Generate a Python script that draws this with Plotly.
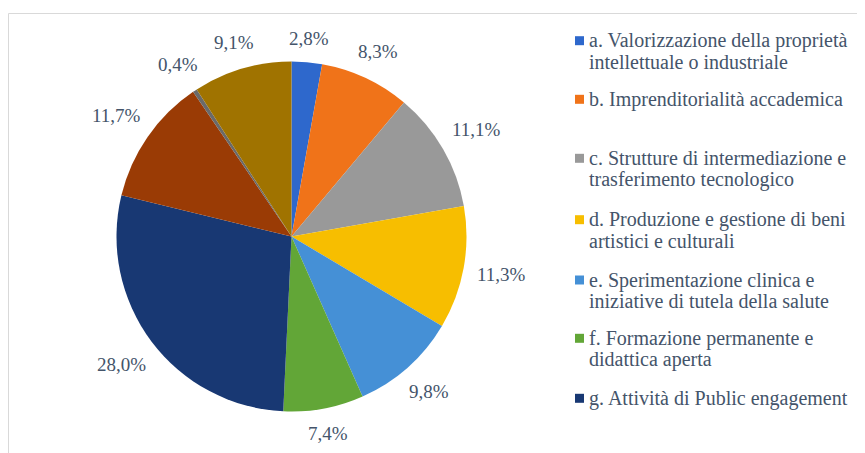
import math
import plotly.graph_objects as go

labels = [
    "a. Valorizzazione della proprietà intellettuale o industriale",
    "b. Imprenditorialità accademica",
    "c. Strutture di intermediazione e trasferimento tecnologico",
    "d. Produzione e gestione di beni artistici e culturali",
    "e. Sperimentazione clinica e iniziative di tutela della salute",
    "f. Formazione permanente e didattica aperta",
    "g. Attività di Public engagement",
    "h. Produzione di beni pubblici di natura sociale, educativa e politiche per l'inclusione",
    "i. Strumenti innovativi a sostegno dell'Open Science",
    "j. Attività collegate all'Agenda ONU 2030 e agli Obiettivi di Sviluppo Sostenibile",
]
values = [2.8, 8.3, 11.1, 11.3, 9.8, 7.4, 28.0, 11.7, 0.4, 9.1]
colors = ["#2E68CC", "#F07319", "#999999", "#F7BE00", "#4590D6",
          "#62A637", "#183873", "#9A3B05", "#6A6A6A", "#A07300"]

# legend entries shown in the reference (a-g), split in lines as displayed
legend_lines = [
    ["a. Valorizzazione della proprietà", "intellettuale o industriale"],
    ["b. Imprenditorialità accademica"],
    ["c. Strutture di intermediazione e", "trasferimento tecnologico"],
    ["d. Produzione e gestione di beni", "artistici e culturali"],
    ["e. Sperimentazione clinica e", "iniziative di tutela della salute"],
    ["f. Formazione permanente e", "didattica aperta"],
    ["g. Attività di Public engagement"],
]
legend_line1_y = [40.7, 99.3, 158.3, 219.7, 280.0, 338.3, 398.3]  # px from top (screen)

OFF = 8                      # page body margin of the browser
W, H = 865 - OFF, 453 - OFF  # figure size
FONT = "Liberation Serif, Times New Roman, serif"
TXT = "#44546A"
FS_LABEL = 19
FS_LEGEND = 20
CX, CY, R = 291.5, 236.5, 175.0   # pie centre / radius in screen px
LINE_H = 21.4


def px2paper(x, y):
    return (x - OFF) / W, 1 - (y - OFF) / H


text = [f"{v:.1f}%".replace(".", ",") for v in values]

x0, y1 = px2paper(CX - R, CY - R)
x1, y0 = px2paper(CX + R, CY + R)
fig = go.Figure(go.Pie(
    labels=labels, values=values, textinfo="none",
    sort=False, direction="clockwise", rotation=0,
    marker=dict(colors=colors, line=dict(width=0)),
    showlegend=False,
    domain=dict(x=[x0, x1], y=[y0, y1]),
    hoverinfo="label+value",
))

annotations = []
# data labels outside the slices, positioned from the slice mid-angles
total = sum(values)
cum = 0.0
for v, t in zip(values, text):
    mid = (cum + v / 2) / total * 2 * math.pi
    cum += v
    sx, sy = math.sin(mid), -math.cos(mid)
    hw, hh = 4.9 * len(t), 9.0
    d = R + 13 + abs(sx) * hw + abs(sy) * hh
    ax, ay = px2paper(CX + d * sx, CY + d * sy)
    annotations.append(dict(text=t, xref="paper", yref="paper", x=ax, y=ay,
                            xanchor="center", yanchor="middle", showarrow=False,
                            font=dict(family=FONT, size=FS_LABEL, color=TXT)))

fx0, fy1 = px2paper(8.5, 13.5)
shapes = [dict(type="rect", xref="paper", yref="paper",
               x0=fx0, x1=1.05, y0=-0.05, y1=fy1,
               line=dict(color="#D9D9D9", width=1), fillcolor="rgba(0,0,0,0)", layer="below")]
for i, (lines, yc) in enumerate(zip(legend_lines, legend_line1_y)):
    sx0, sy1 = px2paper(575, yc - 4.5)
    sx1, sy0 = px2paper(584, yc + 4.5)
    shapes.append(dict(type="rect", xref="paper", yref="paper",
                       x0=sx0, x1=sx1, y0=sy0, y1=sy1,
                       fillcolor=colors[i], line=dict(width=0)))
    for k, ln in enumerate(lines):
        lx, ly = px2paper(587, yc + k * LINE_H)
        annotations.append(dict(text=ln, xref="paper", yref="paper", x=lx, y=ly,
                                xanchor="left", yanchor="middle",
                                align="left", showarrow=False,
                                font=dict(family=FONT, size=FS_LEGEND, color=TXT)))

fig.update_layout(width=W, height=H, margin=dict(l=0, r=0, t=0, b=0),
                  paper_bgcolor="white", plot_bgcolor="white",
                  font=dict(family=FONT),
                  shapes=shapes, annotations=annotations)
fig.write_html("out.html")
